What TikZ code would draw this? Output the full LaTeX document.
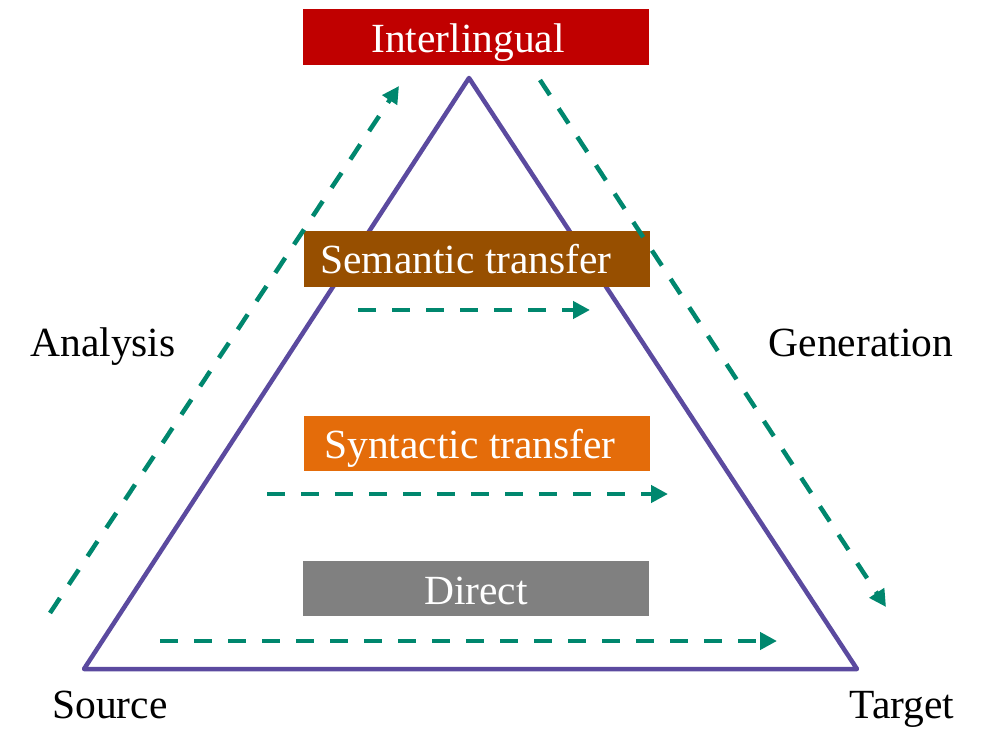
\documentclass[tikz,border=0pt]{standalone}
\usepackage{fontspec}
\setmainfont{Liberation Serif}
\usetikzlibrary{arrows.meta}
\definecolor{tri}{HTML}{5B4A9F}
\definecolor{grn}{HTML}{00876E}
\definecolor{cInter}{HTML}{C00000}
\definecolor{cSem}{HTML}{974F00}
\definecolor{cSyn}{HTML}{E46C0A}
\definecolor{cDir}{HTML}{808080}
\begin{document}
\begin{tikzpicture}[x=1pt,y=-1pt,
  lvl/.style={minimum width=346pt,minimum height=56pt,inner sep=0pt},
  ltxt/.style={text=white,font=\fontsize{41.5}{45}\selectfont,inner sep=0pt,anchor=base},
  lab/.style={font=\fontsize{41.5}{45}\selectfont,inner sep=0pt,anchor=base},
  flow/.style={draw=grn,line width=4.5pt,dash pattern=on 18pt off 16pt,-{Triangle[length=17pt,width=17pt]}}]
\useasboundingbox (0,0) rectangle (989,738);
% triangle
\coordinate (apex) at (469,78);
\coordinate (bl) at (84,669);
\coordinate (br) at (857,669);
\draw[tri,line width=4.5pt,line join=round] (apex) -- (bl) -- (br) -- cycle;
% level boxes
\node[lvl,fill=cInter] (inter) at (476,37.5) {};
\node[ltxt] (intert) at (468,53) {Interlingual};
\node[lvl,fill=cSem] (sem) at (477,259) {};
\node[ltxt] (semt) at (466,274) {Semantic transfer};
\node[lvl,fill=cSyn,minimum height=55pt] (syn) at (476.5,443.5) {};
\node[ltxt] (synt) at (470,458) {Syntactic transfer};
\node[lvl,fill=cDir,minimum height=55pt] (dir) at (476,588.5) {};
\node[ltxt] (dirt) at (476,604) {Direct};
% arrow endpoints
\coordinate (aS) at (50,613);
\coordinate (aE) at (399,86);
\coordinate (gS) at (540,80);
\coordinate (gE) at (886,607);
\coordinate (sS) at (358,310);
\coordinate (sE) at (590,310);
\coordinate (yS) at (267,494);
\coordinate (yE) at (668,494);
\coordinate (dS) at (160,641);
\coordinate (dE) at (777,641);
\draw[flow] (aS) -- (aE);
\draw[flow] (gS) -- (gE);
\draw[flow] (sS) -- (sE);
\draw[flow] (yS) -- (yE);
\draw[flow] (dS) -- (dE);
% labels
\node[lab] (ana) at (103,357) {Analysis};
\node[lab] (gen) at (861,357) {Generation};
\node[lab] (src) at (110,718) {Source};
\node[lab] (tgt) at (902,718) {Target};
\end{tikzpicture}
\end{document}
